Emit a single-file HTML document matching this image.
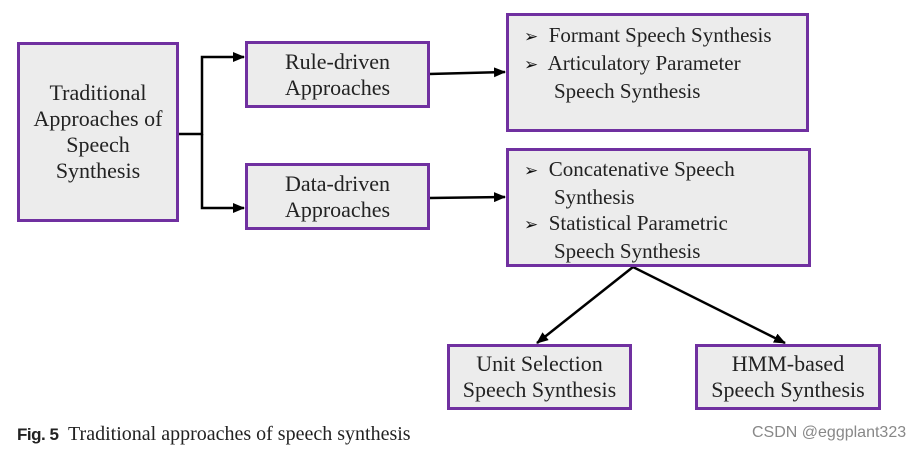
<!DOCTYPE html>
<html><head><meta charset="utf-8"><style>
body{margin:0;width:924px;height:453px;background:#fff;position:relative;overflow:hidden;font-family:"Liberation Serif",serif;color:#222}
.b{position:absolute;box-sizing:border-box;border:3px solid #7030a0;background:#ececec;display:flex;align-items:center;justify-content:center;text-align:center;font-size:22px;line-height:26px}
.l{position:absolute;font-size:21px;line-height:26px}
.k{font-family:"DejaVu Sans",sans-serif;font-size:17px;color:#111}
</style></head><body>
<svg width="924" height="453" style="position:absolute;left:0;top:0">
<defs><marker id="a" markerWidth="12" markerHeight="10" refX="11" refY="5" orient="auto" markerUnits="userSpaceOnUse"><path d="M0,0L12,5L0,10z" fill="#000"/></marker></defs>
<g stroke="#000" stroke-width="2.5" fill="none">
<path d="M178,134H202V57H244" marker-end="url(#a)"/>
<path d="M202,134V208H244" marker-end="url(#a)"/>
<path d="M429,74L505,72" marker-end="url(#a)"/>
<path d="M429,198L505,197" marker-end="url(#a)"/>
<path d="M633,267L537,343" marker-end="url(#a)"/>
<path d="M633,267L785,343" marker-end="url(#a)"/>
</g></svg>
<div class="b" style="left:17px;top:42px;width:162px;height:180px">Traditional<br>Approaches of<br>Speech<br>Synthesis</div>
<div class="b" style="left:245px;top:41px;width:185px;height:67px">Rule-driven<br>Approaches</div>
<div class="b" style="left:245px;top:163px;width:185px;height:67px">Data-driven<br>Approaches</div>
<div class="b" style="left:506px;top:13px;width:303px;height:119px"></div>
<div class="l" style="left:524px;top:22px"><span class="k">➢</span>&nbsp; Formant Speech Synthesis<br><span class="k">➢</span>&nbsp; Articulatory Parameter<br><span style="padding-left:30px">Speech Synthesis</span></div>
<div class="b" style="left:506px;top:148px;width:305px;height:119px"></div>
<div class="l" style="left:524px;top:156px"><span class="k">➢</span>&nbsp; Concatenative Speech<br><span style="padding-left:30px">Synthesis</span><br><span class="k">➢</span>&nbsp; Statistical Parametric<br><span style="padding-left:30px">Speech Synthesis</span></div>
<div class="b" style="left:447px;top:344px;width:185px;height:66px">Unit Selection<br>Speech Synthesis</div>
<div class="b" style="left:695px;top:344px;width:186px;height:66px">HMM-based<br>Speech Synthesis</div>
<div style="position:absolute;left:17px;top:423px;font-size:20px"><span style="font-family:'Liberation Sans',sans-serif;font-size:17px;font-weight:bold;letter-spacing:-0.5px">Fig. 5</span>&nbsp; Traditional approaches of speech synthesis</div>
<div style="position:absolute;left:752px;top:424px;font-family:'Liberation Sans',sans-serif;font-size:16px;color:#888">CSDN @eggplant323</div>
</body></html>
